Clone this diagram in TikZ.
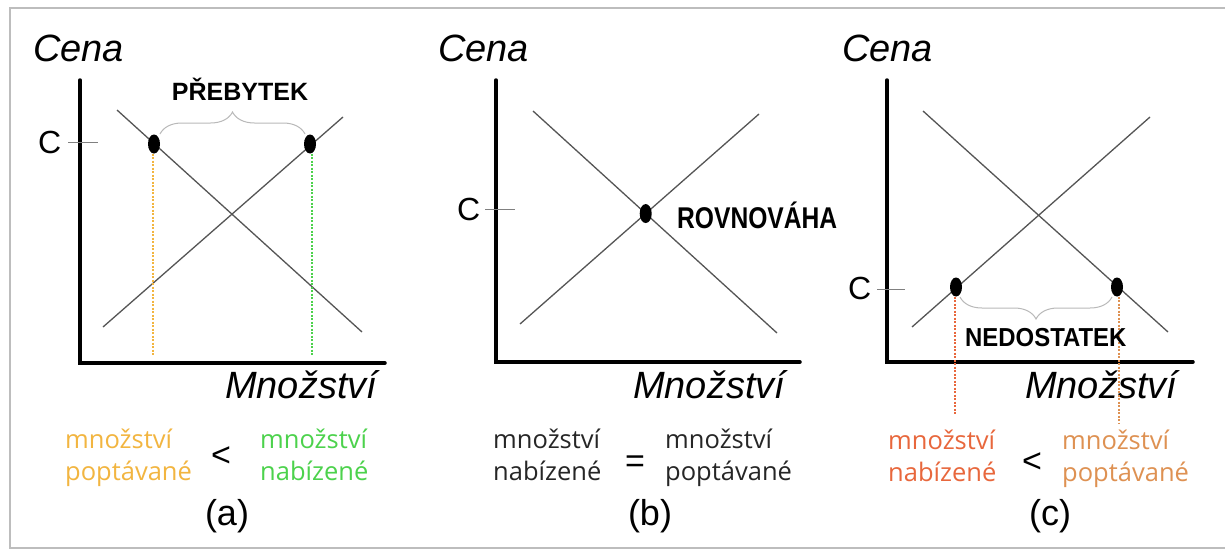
\documentclass[tikz,border=0pt]{standalone}
\usepackage{fontspec}
\setmainfont{Liberation Sans}
\newfontfamily\osans{Open Sans}
\usetikzlibrary{decorations.pathreplacing,calc,shapes.geometric}
\definecolor{curve}{HTML}{555555}
\definecolor{frame}{HTML}{BDBDBD}
\definecolor{aorange}{HTML}{F2B540}
\definecolor{agreen}{HTML}{4CD24C}
\definecolor{cred}{HTML}{E8673C}
\definecolor{ctan}{HTML}{DE9152}
\tikzset{
  axis/.style={line width=3.5pt, line cap=round, line join=miter},
  curveline/.style={line width=1.3pt, draw=curve},
  tick/.style={line width=1pt, draw=gray},
  dot/.style={ellipse, fill=black, minimum width=12pt, minimum height=19pt, inner sep=0pt},
  guide/.style={line width=1.2pt, dash pattern=on 2pt off 1.5pt},
  bracestyle/.style={draw=gray!55, line width=1pt, decorate, decoration={brace, amplitude=22pt}},
  axlabel/.style={inner sep=0pt, anchor=base west, font=\fontsize{38}{40}\selectfont\itshape},
  clabel/.style={inner sep=0pt, anchor=base west, font=\fontsize{32}{34}\selectfont},
  qty/.style={inner sep=0pt, anchor=base west, align=left, font=\osans\fontsize{25.5}{32}\selectfont},
  rel/.style={inner sep=0pt, anchor=base, font=\fontsize{34}{36}\selectfont},
  panel/.style={inner sep=0pt, anchor=base, font=\fontsize{36}{38}\selectfont},
  word/.style={inner sep=0pt, font=\bfseries},
}
\begin{document}
\begin{tikzpicture}[x=1pt,y=-1pt]
\useasboundingbox (0,0) rectangle (1225,551);
\fill[white] (0,0) rectangle (1225,551);
% frame
\draw[frame, line width=1.5pt] (1230,8) -- (10,8) -- (10,548) -- (1230,548);

% ===== panel (a) =====
\draw[axis] (80,80) -- (80,363) -- (385,363);
\node[axlabel] (cenaA) at (33,62) {Cena};
\node[axlabel] (mnozA) at (225,398) {Množství};
\node[clabel] (cA) at (38,153) {C};
\draw[tick] (68,142) -- (98,142);
\draw[curveline] (117,110) -- (362,332);
\draw[curveline] (103,327) -- (343,117);
\node[dot] (a1) at (154,144) {};
\node[dot] (a2) at (310,144) {};
\coordinate (a1b) at (153,355);
\coordinate (a2b) at (312,355);
\draw[guide, aorange] (a1.south) ++(-1,0) -- (a1b);
\draw[guide, agreen] (a2.south) ++(2,0) -- (a2b);
\draw[bracestyle] (160,134) -- (305,134);
\node[word, font=\fontsize{25}{27}\selectfont\bfseries] (preb) at (240,89) {PŘEBYTEK};
\node[qty, text=aorange] (qa1) at (65,480) {množství\\poptávané};
\node[rel] (lt1) at (221,466) {<};
\node[qty, text=agreen] (qa2) at (260,480) {množství\\nabízené};
\node[panel] (pa) at (227,525) {(a)};

% ===== panel (b) =====
\draw[axis] (496,80) -- (496,362) -- (800,362);
\node[axlabel] (cenaB) at (438,62) {Cena};
\node[axlabel] (mnozB) at (633,398) {Množství};
\node[clabel] (cB) at (457,220) {C};
\draw[tick] (485,209) -- (515,209);
\draw[curveline] (533,111) -- (777,333);
\draw[curveline] (520,324) -- (759,114);
\node[dot] (b1) at (intersection of 533,111--777,333 and 520,324--759,114) {};
\node[word, anchor=west] (rov) at (677,215) {\scalebox{0.82}[1]{\fontsize{30}{32}\selectfont\bfseries ROVNOVÁHA}};
\node[qty, text=black!85] (qb1) at (493,480) {množství\\nabízené};
\node[rel] (eq) at (635,472) {=};
\node[qty, text=black!85] (qb2) at (665,480) {množství\\poptávané};
\node[panel] (pb) at (650,525) {(b)};

% ===== panel (c) =====
\draw[axis] (887,80) -- (887,362) -- (1193,362);
\node[axlabel] (cenaC) at (842,62) {Cena};
\node[axlabel] (mnozC) at (1025,398) {Množství};
\node[clabel] (cC) at (848,299) {C};
\draw[tick] (877,289) -- (905,289);
\draw[curveline] (923,111) -- (1168,332);
\draw[curveline] (912,327) -- (1150,117);
\node[dot] (c1) at (956,287) {};
\node[dot] (c2) at (1117,287) {};
\coordinate (c1b) at (955,415);
\coordinate (c2b) at (1119,423);
\draw[guide, cred] (c1.south) ++(-1,0) -- (c1b);
\draw[guide, ctan] (c2.south) ++(2,0) -- (c2b);
\draw[bracestyle] (1112,297) -- (960,297);
\node[word, anchor=west] (nedo) at (965,338) {\scalebox{0.92}[1]{\fontsize{26}{28}\selectfont\bfseries NEDOSTATEK}};
\node[qty, text=cred] (qc1) at (888,481) {množství\\nabízené};
\node[rel] (lt2) at (1032,472) {<};
\node[qty, text=ctan] (qc2) at (1062,481) {množství\\poptávané};
\node[panel] (pc) at (1050,525) {(c)};
\end{tikzpicture}
\end{document}
